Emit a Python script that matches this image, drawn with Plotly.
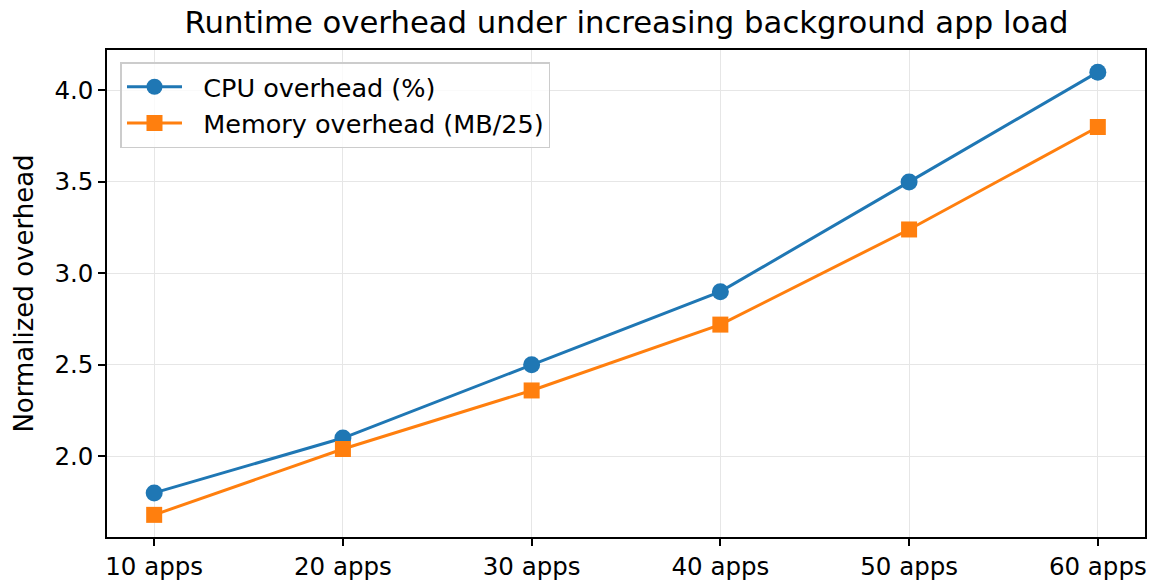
import plotly.graph_objects as go

categories = ["10 apps", "20 apps", "30 apps", "40 apps", "50 apps", "60 apps"]
cpu_overhead = [1.8, 2.1, 2.5, 2.9, 3.5, 4.1]
mem_overhead = [1.68, 2.04, 2.36, 2.72, 3.24, 3.80]

x_idx = list(range(len(categories)))

fig = go.Figure()
fig.add_trace(go.Scatter(
    x=x_idx, y=cpu_overhead, mode="lines+markers", name="\u00a0\u00a0CPU overhead (%)",
    line=dict(color="#1f77b4", width=3),
    marker=dict(symbol="circle", size=17, color="#1f77b4"),
))
fig.add_trace(go.Scatter(
    x=x_idx, y=mem_overhead, mode="lines+markers", name="\u00a0\u00a0Memory overhead (MB/25)",
    line=dict(color="#ff7f0e", width=3),
    marker=dict(symbol="square", size=16, color="#ff7f0e"),
))

axis_common = dict(
    showline=True, linecolor="black", linewidth=1.5, mirror=True,
    ticks="outside", ticklen=7, tickwidth=1.5, tickcolor="black",
    showgrid=True, gridcolor="#e6e6e6", gridwidth=1.2,
    zeroline=False, automargin=False,
    tickfont=dict(family="DejaVu Sans", size=24.5, color="black"),
)

fig.update_layout(
    width=1156, height=582,
    margin=dict(l=107, r=11, t=50, b=45, autoexpand=False),
    paper_bgcolor="white", plot_bgcolor="white",
    title=dict(text="Runtime overhead under increasing background app load",
               x=0.542, xanchor="center", y=0.962, yanchor="middle",
               font=dict(family="DejaVu Sans", size=30.7, color="black")),
    xaxis=dict(axis_common, tickmode="array", tickvals=x_idx, ticktext=categories,
               range=[-0.25, 5.25]),
    yaxis=dict(axis_common, range=[1.559, 4.221], tickvals=[2.0, 2.5, 3.0, 3.5, 4.0],
               ticktext=["2.0", "2.5", "3.0", "3.5", "4.0"],
               title=dict(text="Normalized overhead", standoff=13,
                          font=dict(family="DejaVu Sans", size=26, color="black"))),
    legend=dict(x=0.013, y=0.975, xanchor="left", yanchor="top",
                bgcolor="rgba(255,255,255,0.8)", bordercolor="#cccccc", borderwidth=1.5,
                font=dict(family="DejaVu Sans", size=25.5, color="black"),
                itemwidth=55, tracegroupgap=0),
    showlegend=True,
)

fig.write_html("out.html", config={"displayModeBar": False},
               post_script="document.body.style.margin='0';")
